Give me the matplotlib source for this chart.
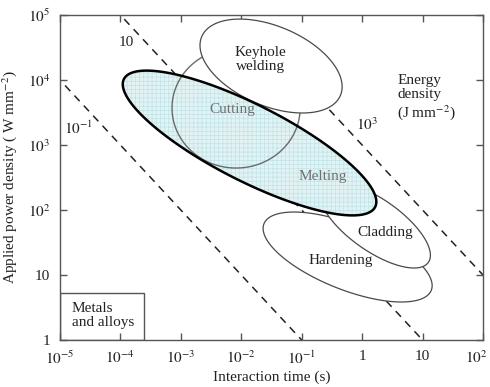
import numpy as np
import matplotlib
matplotlib.use('Agg')
import matplotlib.pyplot as plt
from matplotlib.patches import Polygon, Rectangle
from matplotlib.transforms import ScaledTranslation

plt.rcParams['font.family'] = 'Liberation Serif'
plt.rcParams['mathtext.fontset'] = 'stix'
plt.rcParams['hatch.linewidth'] = 0.5

# process regions, ellipses in log10 space (centre, semi-axes in decades, angle in deg)
region_names = ['Keyhole\nwelding', 'Cutting', 'Melting', 'Cladding', 'Hardening']
region_log_t = [-1.507, -2.086, -1.863, 0.215, -0.240]
region_log_p = [4.215, 3.569, 3.031, 1.769, 1.277]
region_a = [1.234, 1.06, 2.30, 1.052, 1.476]
region_b = [0.618, 0.923, 0.593, 0.409, 0.506]
region_angle = [-20.5, 0.0, -25.1, -32.4, -19.9]

# lines of constant energy density (J mm^-2)
energy_levels = [0.1, 10, 1000]
energy_labels = ['$10^{-1}$', '10', '$10^{3}$']

x_ticks = [1e-5, 1e-4, 1e-3, 1e-2, 1e-1, 1, 10, 100]
x_labels = ['$10^{-5}$', '$10^{-4}$', '$10^{-3}$', '$10^{-2}$', '$10^{-1}$', '1', '10', '$10^{2}$']
y_ticks = [1, 10, 100, 1e3, 1e4, 1e5]
y_labels = ['1', '10', '$10^{2}$', '$10^{3}$', '$10^{4}$', '$10^{5}$']


def ellipse(i, n=400):
    t = np.linspace(0, 2 * np.pi, n)
    r = np.deg2rad(region_angle[i])
    a, b = region_a[i], region_b[i]
    x = region_log_t[i] + a * np.cos(t) * np.cos(r) - b * np.sin(t) * np.sin(r)
    y = region_log_p[i] + a * np.cos(t) * np.sin(r) + b * np.sin(t) * np.cos(r)
    return np.column_stack([10 ** x, 10 ** y])


fig = plt.figure(figsize=(4.9, 3.87), dpi=100)
ax = fig.add_axes([0.1224, 0.1214, 0.8633, 0.8398])
ax.set_xscale('log')
ax.set_yscale('log')
ax.set_xlim(1e-5, 1e2)
ax.set_ylim(1, 1e5)

# energy density lines
t_line = np.array([1e-6, 1e3])
for E in energy_levels:
    ax.plot(t_line, E / t_line, color='#222222', lw=1.1, ls=(0, (5, 4)), zorder=1)

edge = '#4a4a4a'
# hardening, cladding, keyhole: white filled
ax.add_patch(Polygon(ellipse(4), closed=True, facecolor='white', edgecolor=edge, lw=0.9, zorder=2))
ax.add_patch(Polygon(ellipse(3), closed=True, facecolor='white', edgecolor=edge, lw=0.9, zorder=2.5))
# cutting outline below keyhole
ax.add_patch(Polygon(ellipse(1), closed=True, fill=False, edgecolor='#6a6a6a', lw=1.0, zorder=2.8))
ax.add_patch(Polygon(ellipse(0), closed=True, facecolor='white', edgecolor=edge, lw=0.9, zorder=3))

# melting: hatched cyan fill
melt_fill = Polygon(ellipse(2), closed=True, facecolor='#e3f3f4', edgecolor='#bfe3e6',
                    lw=0, hatch='++++', zorder=4)
ax.add_patch(melt_fill)
cut_in = Polygon(ellipse(1), closed=True, fill=False, edgecolor='#6a6a6a', lw=1.0, zorder=5)
ax.add_patch(cut_in)
cut_in.set_clip_path(melt_fill)
ax.add_patch(Polygon(ellipse(2), closed=True, fill=False, edgecolor='black', lw=1.8, zorder=6))

# region labels
lab_pos = [(-1.69, 4.31), (-2.15, 3.54), (-0.65, 2.51), (0.38, 1.65), (-0.36, 1.23)]
lab_col = ['#222222', '#707070', '#707070', '#222222', '#222222']
for name, (lx, ly), c in zip(region_names, lab_pos, lab_col):
    ax.text(10 ** lx, 10 ** ly, name, ha='center', va='center', fontsize=11,
            color=c, linespacing=1.1, zorder=7)

# energy labels
e_pos = [(-4.70, 3.26), (-3.91, 4.57), (0.08, 3.31)]
for lbl, (lx, ly) in zip(energy_labels, e_pos):
    ax.text(10 ** lx, 10 ** ly, lbl, ha='center', va='center', fontsize=11, color='#222222')
ax.text(10 ** 0.58, 10 ** 3.72, 'Energy\ndensity\n(J mm$^{-2}$)', ha='left', va='center',
        fontsize=11, color='#222222', linespacing=1.15)

# metals and alloys box
ax.add_patch(Rectangle((0, 0), 0.1986, 0.1455, transform=ax.transAxes, fill=False,
                       edgecolor='#555555', lw=1.0, zorder=7))
ax.text(0.028, 0.074, 'Metals\nand alloys', transform=ax.transAxes, ha='left', va='center',
        fontsize=11, color='#222222', linespacing=1.1)

ax.set_xticks(x_ticks)
ax.set_xticklabels(x_labels)
ax.set_yticks(y_ticks)
ax.set_yticklabels(y_labels)
ax.minorticks_off()
ax.tick_params(direction='in', length=5, width=1, color='#555555', labelsize=11,
               labelcolor='#222222', top=True, right=True, pad=7)
for s in ax.spines.values():
    s.set_color('#555555')
    s.set_linewidth(1.0)

# keep the last x tick label inside the figure
last = ax.get_xticklabels()[-1]
last.set_transform(last.get_transform() + ScaledTranslation(-5 / 72, 0, fig.dpi_scale_trans))

ax.set_xlabel('Interaction time (s)', fontsize=11, color='#222222')
ax.set_ylabel('Applied power density ( W mm$^{-2}$)', fontsize=11, color='#222222')
ax.xaxis.set_label_coords(0.5, -0.093)
ax.yaxis.set_label_coords(-0.098, 0.5)

fig.savefig('out.png', dpi=100)
